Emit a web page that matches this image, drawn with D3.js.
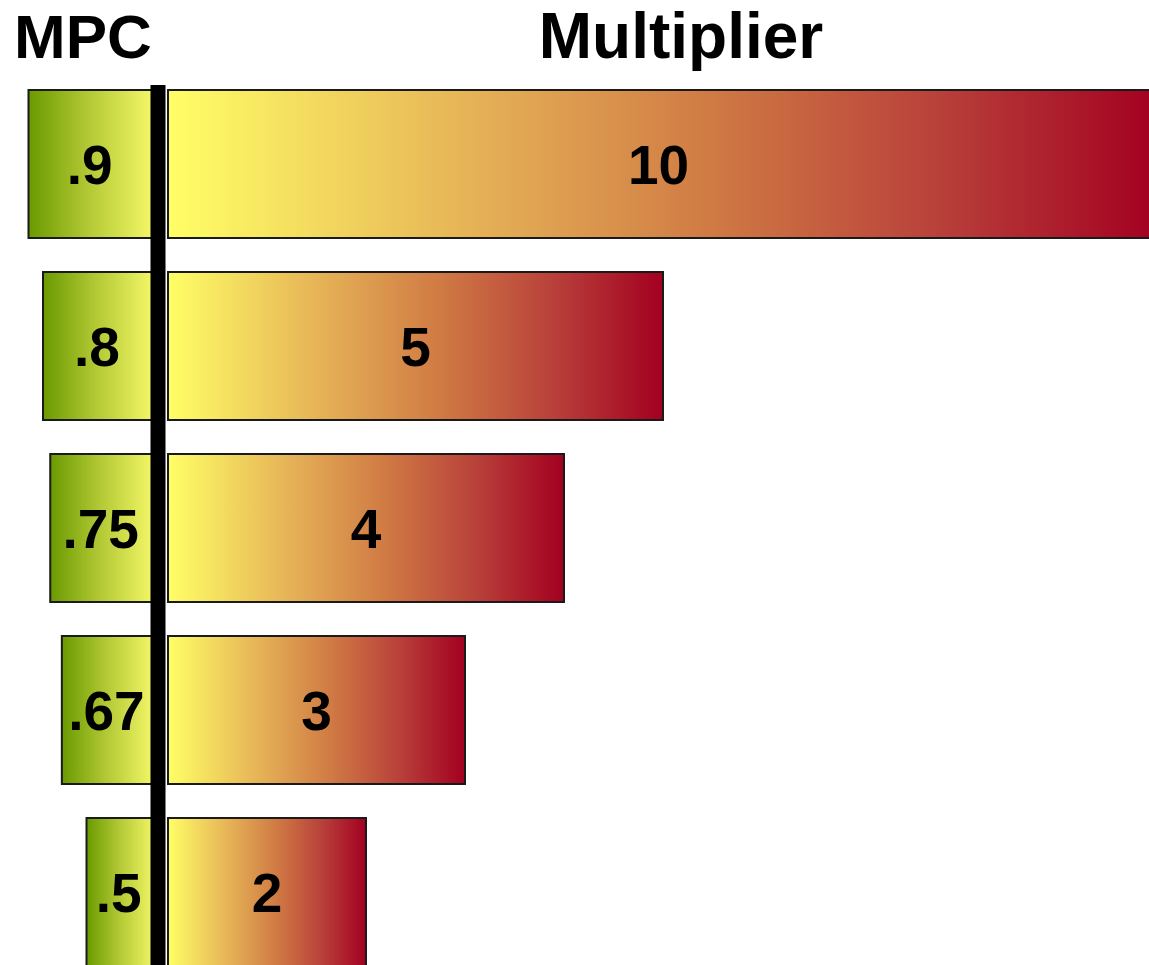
<!DOCTYPE html>
<html>
<head>
<meta charset="utf-8">
<script src="https://cdn.jsdelivr.net/npm/d3@7"></script>
<style>
  html, body { margin: 0; padding: 0; background: #fff; }
  svg { display: block; }
  text { font-family: "Liberation Sans", Arial, sans-serif; font-weight: bold; fill: #000; }
</style>
</head>
<body>
<script>
// Marginal propensity to consume and the spending multiplier it implies
const mpcValues = [0.9, 0.8, 0.75, 0.67, 0.5];
const mpcLabels = [".9", ".8", ".75", ".67", ".5"];
const multiplierValues = [10, 5, 4, 3, 2];
const multiplierLabels = ["10", "5", "4", "3", "2"];
const titles = ["MPC", "Multiplier"];

const W = 1149, H = 965;
const axisX = 158;
const rowStep = 182, rowGap = 34, rowsTop = 90;

const svg = d3.select("body").append("svg")
  .attr("width", W).attr("height", H);

const defs = svg.append("defs");

const greenGrad = defs.append("linearGradient").attr("id", "gradMpc")
  .attr("x1", "0%").attr("x2", "100%").attr("y1", "0%").attr("y2", "0%");
[["0%", "#6a9a00"], ["45%", "#b2c834"], ["100%", "#fbfc6c"]].forEach(([o, c]) =>
  greenGrad.append("stop").attr("offset", o).attr("stop-color", c));

const heatGrad = defs.append("linearGradient").attr("id", "gradMult")
  .attr("x1", "0%").attr("x2", "100%").attr("y1", "0%").attr("y2", "0%");
[["0%", "#ffff66"], ["30%", "#e6b457"], ["55%", "#d07a44"], ["78%", "#b8403a"], ["100%", "#a30020"]]
  .forEach(([o, c]) => heatGrad.append("stop").attr("offset", o).attr("stop-color", c));

// Rows
const n = mpcValues.length;
const y = d3.scaleBand()
  .domain(d3.range(n))
  .range([rowsTop, rowsTop + rowStep * n - rowGap])
  .paddingInner(rowGap / rowStep)
  .paddingOuter(0);

// MPC grows to the left of the axis, multiplier to the right
const xLeft = d3.scaleLinear().domain([0, 1]).range([159, 14]);
const xRight = d3.scaleLinear().domain([0, 10]).range([168, 1158]);

const rows = svg.append("g").selectAll("g")
  .data(d3.range(n))
  .join("g");

rows.append("rect")
  .attr("x", i => xLeft(mpcValues[i]))
  .attr("y", i => y(i))
  .attr("width", i => xLeft(0) - xLeft(mpcValues[i]))
  .attr("height", y.bandwidth())
  .attr("fill", "url(#gradMpc)")
  .attr("stroke", "#1a1a1a").attr("stroke-width", 2);

rows.append("rect")
  .attr("x", xRight(0))
  .attr("y", i => y(i))
  .attr("width", i => xRight(multiplierValues[i]) - xRight(0))
  .attr("height", y.bandwidth())
  .attr("fill", "url(#gradMult)")
  .attr("stroke", "#1a1a1a").attr("stroke-width", 2);

rows.append("text")
  .attr("x", i => (xLeft(mpcValues[i]) + 151) / 2)
  .attr("y", i => y(i) + y.bandwidth() / 2 + 20)
  .attr("text-anchor", "middle")
  .attr("font-size", 55)
  .text(i => mpcLabels[i]);

rows.append("text")
  .attr("x", i => (xRight(0) + Math.min(xRight(multiplierValues[i]), W)) / 2)
  .attr("y", i => y(i) + y.bandwidth() / 2 + 20)
  .attr("text-anchor", "middle")
  .attr("font-size", 55)
  .text(i => multiplierLabels[i]);

// Central axis
svg.append("line")
  .attr("x1", axisX).attr("x2", axisX)
  .attr("y1", 85).attr("y2", H)
  .attr("stroke", "#000").attr("stroke-width", 15);

// Column titles
svg.append("text").attr("x", 14).attr("y", 58)
  .attr("font-size", 62).text(titles[0]);
svg.append("text").attr("x", 681).attr("y", 58)
  .attr("text-anchor", "middle")
  .attr("font-size", 64).text(titles[1]);
</script>
</body>
</html>
